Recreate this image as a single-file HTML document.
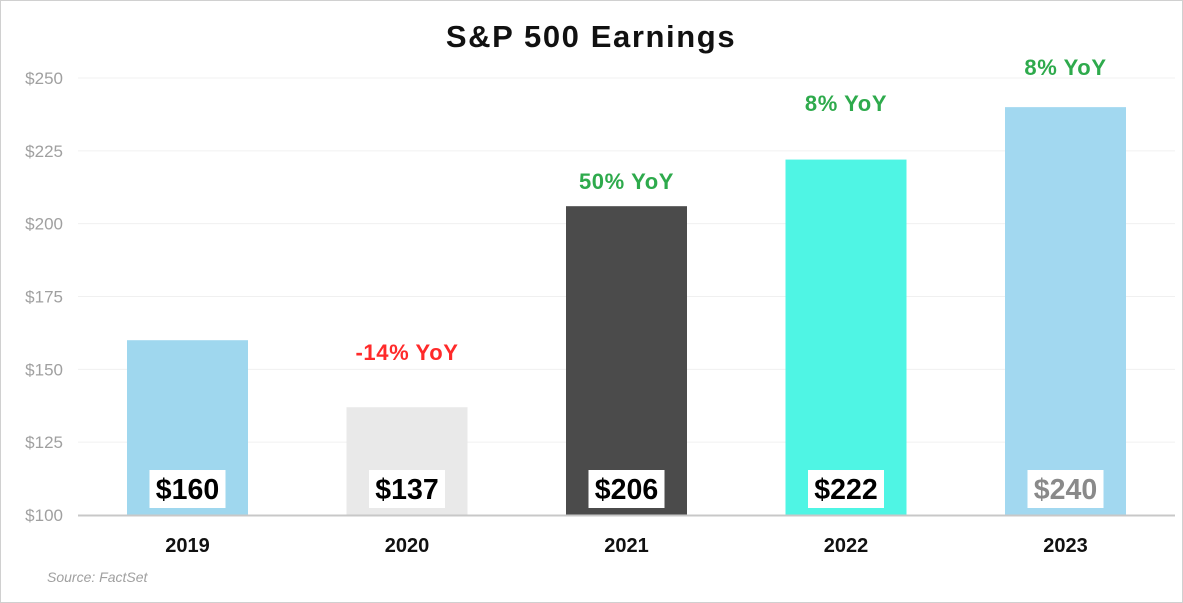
<!DOCTYPE html>
<html><head><meta charset="utf-8">
<style>
html,body{margin:0;padding:0;background:#fff;}
svg{display:block;font-family:"Liberation Sans",Arial,sans-serif;}
</style></head>
<body>
<svg id="chart" width="1183" height="603" viewBox="0 0 1183 603" xmlns="http://www.w3.org/2000/svg">
<rect x="0.5" y="0.5" width="1182" height="602" fill="#fff" stroke="#d0d0d0"/>
<text x="591" y="47" text-anchor="middle" font-size="31" font-weight="bold" letter-spacing="1.6" fill="#111">S&amp;P 500 Earnings</text>
<g id="grid"></g><g id="yaxis"></g><g id="bars"></g><g id="labels"></g>
<text x="47" y="582" font-size="14" font-style="italic" fill="#a0a0a0">Source:  FactSet</text>
</svg>
<script>
const categories = ["2019","2020","2021","2022","2023"];
const earnings = [160,137,206,222,240];
const valueLabels = ["$160","$137","$206","$222","$240"];
const yoyLabels = ["","-14% YoY","50% YoY","8% YoY","8% YoY"];
const yoyLevel = [0,155.6,214.3,241,253.4];
const yTicks = [100,125,150,175,200,225,250];
const barColors = ["#9fd7ee","#e9e9e9","#4b4b4b","#4ff5e4","#a2d8f0"];
const NS="http://www.w3.org/2000/svg";
const yMin=100,yMax=250,py0=515,py1=78;
const y=v=>py0-(v-yMin)/(yMax-yMin)*(py0-py1);
const left=77.75,step=219.5,bw=121;
const xc=i=>left+step*(i+0.5);
function mk(tag,attrs,parent,txt){const e=document.createElementNS(NS,tag);for(const k in attrs)e.setAttribute(k,attrs[k]);if(txt!==undefined)e.textContent=txt;document.getElementById(parent).appendChild(e);return e;}
yTicks.forEach(t=>{
  if(t>yMin){const g=mk('line',{x1:78,x2:1175,y1:y(t),y2:y(t),stroke:'#f0f0f0','stroke-width':1},'grid');
  
  }
  const l=mk('text',{x:63,y:y(t)+6,'text-anchor':'end','font-size':17,fill:'#a0a0a0'},'yaxis','$'+t);
  
  
});
categories.forEach((c,i)=>{
  const cx=xc(i);
  const b=mk('rect',{x:cx-bw/2,y:y(earnings[i]),width:bw,height:py0-y(earnings[i]),fill:barColors[i]},'bars');
  
  
  const bx=mk('rect',{x:cx-38,y:470,width:76,height:38,fill:'#fff'},'labels');
  
  
  const vt=mk('text',{x:cx,y:499,'text-anchor':'middle','font-size':28.5,'font-weight':'bold',fill:i===4?'#8a8a8a':'#000'},'labels',valueLabels[i]);
  
  
  const xt=mk('text',{x:cx,y:552,'text-anchor':'middle','font-size':20,'font-weight':'bold',fill:'#111'},'labels',c);
  
  
  if(yoyLabels[i]){
    const neg=yoyLabels[i].startsWith('-');
    const yt=mk('text',{x:cx,y:y(yoyLevel[i])+7,'text-anchor':'middle','font-size':22,'font-weight':'bold','letter-spacing':0.6,fill:neg?'#ff2a2a':'#2eaa4c'},'labels',yoyLabels[i]);
    
    
  }
});
const ax=mk('line',{x1:78,x2:1175,y1:py0+0.5,y2:py0+0.5,stroke:'#c8c8c8','stroke-width':2},'labels');


</script>
</body></html>
